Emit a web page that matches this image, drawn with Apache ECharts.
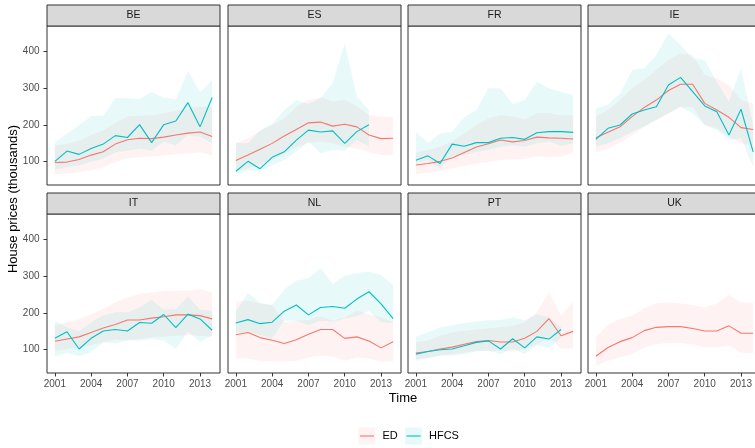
<!DOCTYPE html>
<html>
<head>
<meta charset="utf-8">
<script src="https://cdn.jsdelivr.net/npm/echarts@6/dist/echarts.min.js"></script>
<style>
  html, body { margin: 0; padding: 0; background: #ffffff; }
  #chart { width: 755px; height: 448px; }
</style>
</head>
<body>
<div id="chart"></div>
<script>
// Survey years and axis ticks
const years = [2001, 2002, 2003, 2004, 2005, 2006, 2007, 2008, 2009, 2010, 2011, 2012, 2013, 2014];
const countries = ['BE', 'ES', 'FR', 'IE', 'IT', 'NL', 'PT', 'UK'];
const yearTicks = [2001, 2004, 2007, 2010, 2013];
const priceTicks = [100, 200, 300, 400];
const seriesNames = ['ED', 'HFCS'];

// House prices (thousands): ED estimate with its band
const BE_ED    = [98, 99, 106, 118, 127, 148, 160, 164, 163, 167, 173, 178, 181, 169];
const BE_ED_LO = [66, 68, 72, 77, 85, 99, 109, 112, 114, 116, 121, 123, 126, 117];
const BE_ED_HI = [144, 148, 157, 173, 185, 206, 223, 225, 227, 232, 239, 245, 250, 248];
const ES_ED    = [103, 118, 134, 150, 170, 188, 206, 208, 197, 202, 195, 173, 163, 164];
const ES_ED_LO = [73, 82, 94, 105, 120, 141, 150, 155, 150, 141, 136, 127, 118, 118];
const ES_ED_HI = [150, 164, 184, 200, 218, 250, 268, 275, 264, 268, 252, 227, 223, 221];
const FR_ED    = [91, 95, 101, 110, 125, 140, 149, 159, 154, 158, 167, 165, 164, 162];
const FR_ED_LO = [66, 70, 75, 82, 88, 95, 99, 105, 106, 108, 114, 112, 114, 125];
const FR_ED_HI = [125, 132, 141, 155, 177, 200, 218, 227, 223, 215, 232, 232, 227, 227];
const IE_ED    = [165, 180, 195, 223, 248, 268, 294, 311, 311, 259, 241, 221, 193, 188];
const IE_ED_LO = [125, 136, 152, 173, 195, 214, 232, 250, 250, 200, 191, 168, 150, 145];
const IE_ED_HI = [223, 241, 268, 300, 323, 350, 377, 395, 391, 336, 327, 309, 268, 259];
const IT_ED    = [123, 129, 135, 147, 159, 169, 181, 181, 186, 190, 195, 195, 193, 184];
const IT_ED_LO = [97, 102, 106, 113, 120, 127, 127, 129, 134, 136, 138, 140, 138, 136];
const IT_ED_HI = [167, 175, 184, 197, 211, 229, 243, 252, 256, 260, 261, 261, 265, 256];
const NL_ED    = [141, 147, 133, 126, 117, 127, 142, 155, 155, 131, 135, 124, 105, 122];
const NL_ED_LO = [76, 76, 70, 68, 68, 70, 79, 84, 82, 70, 79, 76, 68, 68];
const NL_ED_HI = [231, 234, 227, 222, 175, 179, 181, 191, 179, 188, 206, 197, 188, 175];
const PT_ED    = [91, 95, 102, 107, 115, 122, 125, 121, 121, 131, 150, 185, 138, 150];
const PT_ED_LO = [75, 79, 84, 88, 93, 97, 97, 97, 97, 102, 115, 134, 102, 104];
const PT_ED_HI = [120, 125, 138, 147, 152, 155, 158, 161, 165, 175, 202, 256, 193, 231];
const UK_ED    = [82, 106, 122, 133, 152, 161, 163, 163, 158, 151, 151, 165, 145, 145];
const UK_ED_LO = [56, 70, 79, 88, 106, 115, 118, 118, 115, 106, 106, 111, 91, 91];
const UK_ED_HI = [134, 168, 184, 193, 213, 227, 229, 227, 222, 215, 227, 249, 229, 229];

// House prices (thousands): HFCS estimate with its band (starting 2001)
const BE_HFCS    = [101, 129, 120, 136, 148, 171, 166, 201, 152, 201, 211, 261, 195, 275];
const BE_HFCS_LO = [78, 85, 90, 100, 108, 125, 130, 135, 130, 155, 144, 173, 168, 150];
const BE_HFCS_HI = [152, 177, 200, 225, 225, 274, 273, 271, 290, 275, 270, 348, 290, 323];
const ES_HFCS    = [74, 101, 81, 112, 127, 159, 186, 181, 184, 150, 182, 201];
const ES_HFCS_LO = [68, 77, 73, 91, 105, 127, 155, 123, 132, 130, 159, 141];
const ES_HFCS_HI = [152, 150, 186, 203, 241, 268, 257, 273, 314, 423, 277, 241];
const FR_HFCS    = [104, 116, 95, 148, 142, 152, 152, 164, 166, 161, 179, 182, 182, 180];
const FR_HFCS_LO = [95, 105, 82, 114, 118, 127, 132, 141, 145, 141, 150, 155, 143, 150];
const FR_HFCS_HI = [182, 152, 177, 182, 221, 241, 300, 300, 257, 268, 318, 300, 291, 282];
const IE_HFCS    = [161, 191, 200, 230, 241, 250, 309, 330, 291, 252, 236, 173, 243, 127];
const IE_HFCS_LO = [141, 150, 164, 182, 197, 214, 232, 250, 232, 200, 186, 159, 164, 86];
const IE_HFCS_HI = [245, 255, 286, 350, 355, 391, 450, 418, 382, 377, 318, 264, 355, 200];
const IT_HFCS    = [131, 149, 102, 131, 151, 155, 151, 174, 172, 196, 160, 197, 184, 153];
const IT_HFCS_LO = [82, 91, 82, 93, 120, 117, 125, 125, 129, 125, 102, 149, 122, 138];
const IT_HFCS_HI = [179, 161, 150, 175, 193, 202, 202, 215, 236, 209, 211, 245, 209, 206];
const NL_HFCS    = [173, 182, 171, 175, 205, 222, 195, 215, 218, 213, 238, 258, 225, 185];
const NL_HFCS_LO = [147, 147, 140, 131, 179, 179, 167, 179, 176, 185, 191, 206, 175, 173];
const NL_HFCS_HI = [204, 255, 227, 222, 264, 289, 295, 322, 279, 302, 309, 313, 304, 276];
const PT_HFCS    = [88, 95, 100, 102, 111, 120, 124, 102, 130, 105, 135, 129, 155];
const PT_HFCS_LO = [70, 76, 84, 84, 88, 95, 97, 88, 102, 88, 113, 104, 134];
const PT_HFCS_HI = [136, 147, 161, 167, 173, 177, 180, 181, 188, 180, 197, 188, 161];
const UK_HFCS    = [];
const UK_HFCS_LO = [];
const UK_HFCS_HI = [];

const panelData = {
  BE: [[BE_ED, BE_ED_LO, BE_ED_HI], [BE_HFCS, BE_HFCS_LO, BE_HFCS_HI]],
  ES: [[ES_ED, ES_ED_LO, ES_ED_HI], [ES_HFCS, ES_HFCS_LO, ES_HFCS_HI]],
  FR: [[FR_ED, FR_ED_LO, FR_ED_HI], [FR_HFCS, FR_HFCS_LO, FR_HFCS_HI]],
  IE: [[IE_ED, IE_ED_LO, IE_ED_HI], [IE_HFCS, IE_HFCS_LO, IE_HFCS_HI]],
  IT: [[IT_ED, IT_ED_LO, IT_ED_HI], [IT_HFCS, IT_HFCS_LO, IT_HFCS_HI]],
  NL: [[NL_ED, NL_ED_LO, NL_ED_HI], [NL_HFCS, NL_HFCS_LO, NL_HFCS_HI]],
  PT: [[PT_ED, PT_ED_LO, PT_ED_HI], [PT_HFCS, PT_HFCS_LO, PT_HFCS_HI]],
  UK: [[UK_ED, UK_ED_LO, UK_ED_HI], [UK_HFCS, UK_HFCS_LO, UK_HFCS_HI]]
};

// Styling
const FONT = '"Liberation Sans", Arial, Helvetica, sans-serif';
const lineColors = ['#F8766D', '#00BFC4'];
const bandColors = ['rgba(248,118,109,0.09)', 'rgba(0,191,196,0.09)'];
const frameColor = '#333333';
const tickTextColor = '#4D4D4D';

// Facet layout (2 rows x 4 columns)
const colLeft = [47, 228, 408, 588];
const rowTop = [26, 214];
const panelW = 173, panelH = 159, stripH = 21;
const xMin = 2000.35, xMax = 2014.65;
const yMin = 36.5, yMax = 470;

const grids = [], xAxes = [], yAxes = [], series = [], graphics = [];

function bandRenderer(fill) {
  return function (params, api) {
    if (params.dataIndexInside !== 0) return null;
    const n = params.dataInsideLength;
    const upper = [], lower = [];
    for (let i = 0; i < n; i++) {
      const x = api.value(0, i);
      upper.push(api.coord([x, api.value(2, i)]));
      lower.push(api.coord([x, api.value(1, i)]));
    }
    return {
      type: 'polygon',
      shape: { points: upper.concat(lower.reverse()) },
      style: { fill: fill, stroke: null }
    };
  };
}

countries.forEach(function (c, k) {
  const row = Math.floor(k / 4), col = k % 4;
  const left = colLeft[col], top = rowTop[row];
  const isBottom = row === 1, isLeft = col === 0;

  grids.push({
    left: left, top: top, width: panelW, height: panelH,
    containLabel: false, outerBoundsMode: 'none',
    show: true, borderColor: frameColor, borderWidth: 1, backgroundColor: 'transparent'
  });

  xAxes.push({
    type: 'value', gridIndex: k, min: xMin, max: xMax,
    axisLine: { show: false },
    splitLine: { show: false },
    axisTick: { show: isBottom, customValues: yearTicks, length: 3.5, lineStyle: { color: frameColor, width: 1 } },
    axisLabel: { show: isBottom, customValues: yearTicks, color: tickTextColor, fontFamily: FONT, fontSize: 10, margin: 6,
                 formatter: function (v) { return String(Math.round(v)); } }
  });

  yAxes.push({
    type: 'value', gridIndex: k, min: yMin, max: yMax,
    axisLine: { show: false },
    splitLine: { show: false },
    axisTick: { show: isLeft, customValues: priceTicks, length: 3.5, lineStyle: { color: frameColor, width: 1 } },
    axisLabel: { show: isLeft, customValues: priceTicks, color: tickTextColor, fontFamily: FONT, fontSize: 10, margin: 7.5,
                 formatter: function (v) { return String(Math.round(v)); } }
  });

  const sets = panelData[c];
  // bands first
  sets.forEach(function (set, s) {
    const mid = set[0], lo = set[1], hi = set[2];
    if (!mid.length) return;
    series.push({
      type: 'custom', name: seriesNames[s] + ' band', xAxisIndex: k, yAxisIndex: k,
      silent: true, animation: false,
      encode: { x: 0, y: [1, 2] },
      data: lo.map(function (v, i) { return [years[i], v, hi[i]]; }),
      renderItem: bandRenderer(bandColors[s])
    });
  });
  // estimate lines on top
  sets.forEach(function (set, s) {
    const mid = set[0];
    if (!mid.length) return;
    series.push({
      type: 'line', name: seriesNames[s], xAxisIndex: k, yAxisIndex: k,
      silent: true, animation: false, showSymbol: false, symbol: 'none',
      lineStyle: { color: lineColors[s], width: 1.1 },
      itemStyle: { color: lineColors[s] },
      data: mid.map(function (v, i) { return [years[i], v]; })
    });
  });

  // facet strip
  graphics.push({
    type: 'rect', silent: true, z: 10,
    shape: { x: left, y: top - stripH, width: panelW, height: stripH },
    style: { fill: '#D9D9D9', stroke: frameColor, lineWidth: 1 }
  });
  graphics.push({
    type: 'text', silent: true, z: 11,
    x: left + panelW / 2, y: top - stripH / 2,
    style: { text: c, fill: '#1A1A1A', font: '10.5px ' + FONT, textAlign: 'center', textVerticalAlign: 'middle' }
  });
});

// Axis titles
graphics.push({
  type: 'text', silent: true, x: 403, y: 398,
  style: { text: 'Time', fill: '#000000', font: '13px ' + FONT, textAlign: 'center', textVerticalAlign: 'middle' }
});
graphics.push({
  type: 'text', silent: true, x: 13, y: 199, rotation: Math.PI / 2,
  style: { text: 'House prices (thousands)', fill: '#000000', font: '13px ' + FONT, textAlign: 'center', textVerticalAlign: 'middle' }
});

// Legend keys
const legendKeyX = [358.5, 405];
const legendTextX = [382.5, 429];
seriesNames.forEach(function (name, s) {
  graphics.push({
    type: 'rect', silent: true,
    shape: { x: legendKeyX[s], y: 427.5, width: 17, height: 17 },
    style: { fill: bandColors[s], stroke: null }
  });
  graphics.push({
    type: 'line', silent: true,
    shape: { x1: legendKeyX[s] + 1.5, y1: 436, x2: legendKeyX[s] + 15.5, y2: 436 },
    style: { stroke: lineColors[s], lineWidth: 1.1 }
  });
  graphics.push({
    type: 'text', silent: true, x: legendTextX[s], y: 436,
    style: { text: name, fill: '#000000', font: '11px ' + FONT, textAlign: 'left', textVerticalAlign: 'middle' }
  });
});

const chart = echarts.init(document.getElementById('chart'), null, { renderer: 'canvas' });
chart.setOption({
  backgroundColor: '#ffffff',
  animation: false,
  grid: grids,
  xAxis: xAxes,
  yAxis: yAxes,
  series: series,
  graphic: { elements: graphics }
});
</script>
</body>
</html>
